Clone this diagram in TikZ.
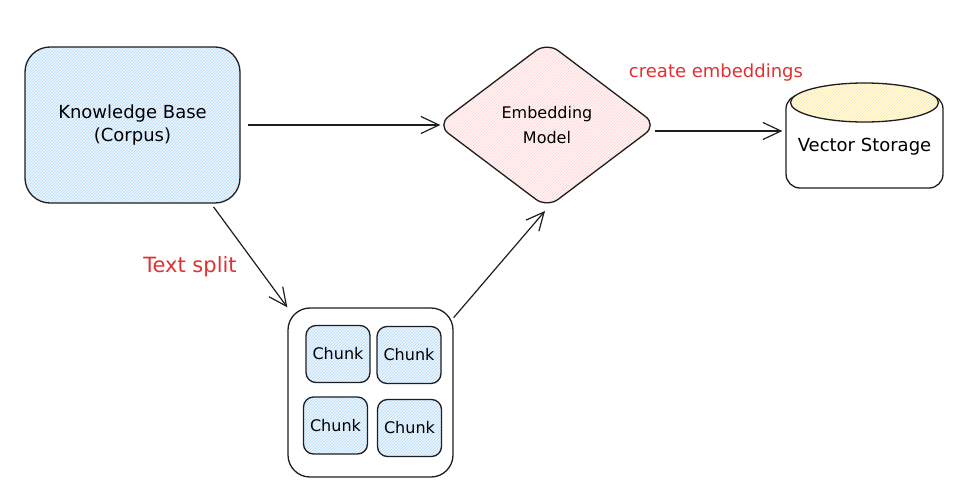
\documentclass[tikz,border=0pt]{standalone}
\usepackage{fontspec}
\setmainfont{DejaVu Sans}
\usepackage{xcolor}
\usetikzlibrary{calc, shapes, arrows.meta, patterns}
\definecolor{inkcol}{HTML}{1E1E1E}
\definecolor{redcol}{HTML}{E03131}
\definecolor{bluebg}{HTML}{EEF6FE}
\definecolor{bluehatchcol}{HTML}{B2DAFA}
\definecolor{pinkbg}{HTML}{FFF7F7}
\definecolor{pinkhatchcol}{HTML}{FFD0D0}
\definecolor{yellowbg}{HTML}{FFFBEA}
\definecolor{yellowhatchcol}{HTML}{FFE898}

\begin{document}
\begin{tikzpicture}[x=1pt, y=-1pt,
	inkline/.style={draw=inkcol, line width=1.3pt},
	flowarrow/.style={draw=inkcol, line width=1.2pt, -{Straight Barb[length=18pt, width=17pt]}},
	bluehatch/.style={preaction={fill=bluebg}, pattern=north east lines, pattern color=bluehatchcol},
	pinkhatch/.style={preaction={fill=pinkbg}, pattern=north east lines, pattern color=pinkhatchcol},
	yellowhatch/.style={preaction={fill=yellowbg}, pattern=north east lines, pattern color=yellowhatchcol},
	chunkbox/.style={inkline, bluehatch, rounded corners=10pt, minimum width=64pt, minimum height=57pt, inner sep=0pt},
	bigfont/.style={font=\fontsize{18}{23}\selectfont},
	smallfont/.style={font=\fontsize{16}{25}\selectfont}
	]
				%Canvas
				\useasboundingbox (0,0) rectangle (971,490);
				%Knowledge base box
				\node [inkline, bluehatch, rounded corners=25pt, minimum width=215pt, minimum height=156pt, align=center, bigfont] (kb) at (132.5,125) {Knowledge Base\\(Corpus)};
				%Embedding model diamond
				\node [diamond, inkline, pinkhatch, rounded corners=14pt, minimum width=220pt, minimum height=166pt, inner sep=0pt, align=center, smallfont] (em) at (547,125) {Embedding\\Model};
				%Vector storage cylinder
				\node [inkline, fill=white, rounded corners=14pt, minimum width=157pt, minimum height=93pt] (vs) at (864.5,141.5) {};
				\node [ellipse, inkline, yellowhatch, minimum width=148pt, minimum height=39pt, inner sep=0pt] (vstop) at (864.5,102.5) {};
				\node [bigfont] (vstext) at (864.5,147) {Vector Storage};
				%Chunk container
				\node [inkline, rounded corners=22pt, minimum width=165pt, minimum height=169pt] (chunks) at (370.5,392.5) {};
				%The chunks
				\foreach \i/\x/\y in {0/338/354, 1/409/355, 2/335.5/425.5, 3/409.5/428} {
					\node [chunkbox, smallfont] (chunk\i) at (\x,\y) {Chunk};
				}
				%Red labels
				\node [text=redcol, font=\fontsize{21}{25}\selectfont] (splitlabel) at (190,267) {Text split};
				\node [text=redcol, bigfont] (embedlabel) at (716,73) {create embeddings};
				%Arrows
				\draw [flowarrow, shorten <=7pt, shorten >=-4pt] (kb.east) -- (em.west);
				\draw [flowarrow, shorten <=-3pt, shorten >=3pt] ([yshift=-6pt]em.east) -- ([yshift=-6pt]em.east -| vs.west);
				\draw [flowarrow, shorten <=4pt] (kb.-45) -- (chunks.north west);
				\draw [flowarrow, shorten >=3pt] (chunks.42) -- (em.south);
\end{tikzpicture}
\end{document}
